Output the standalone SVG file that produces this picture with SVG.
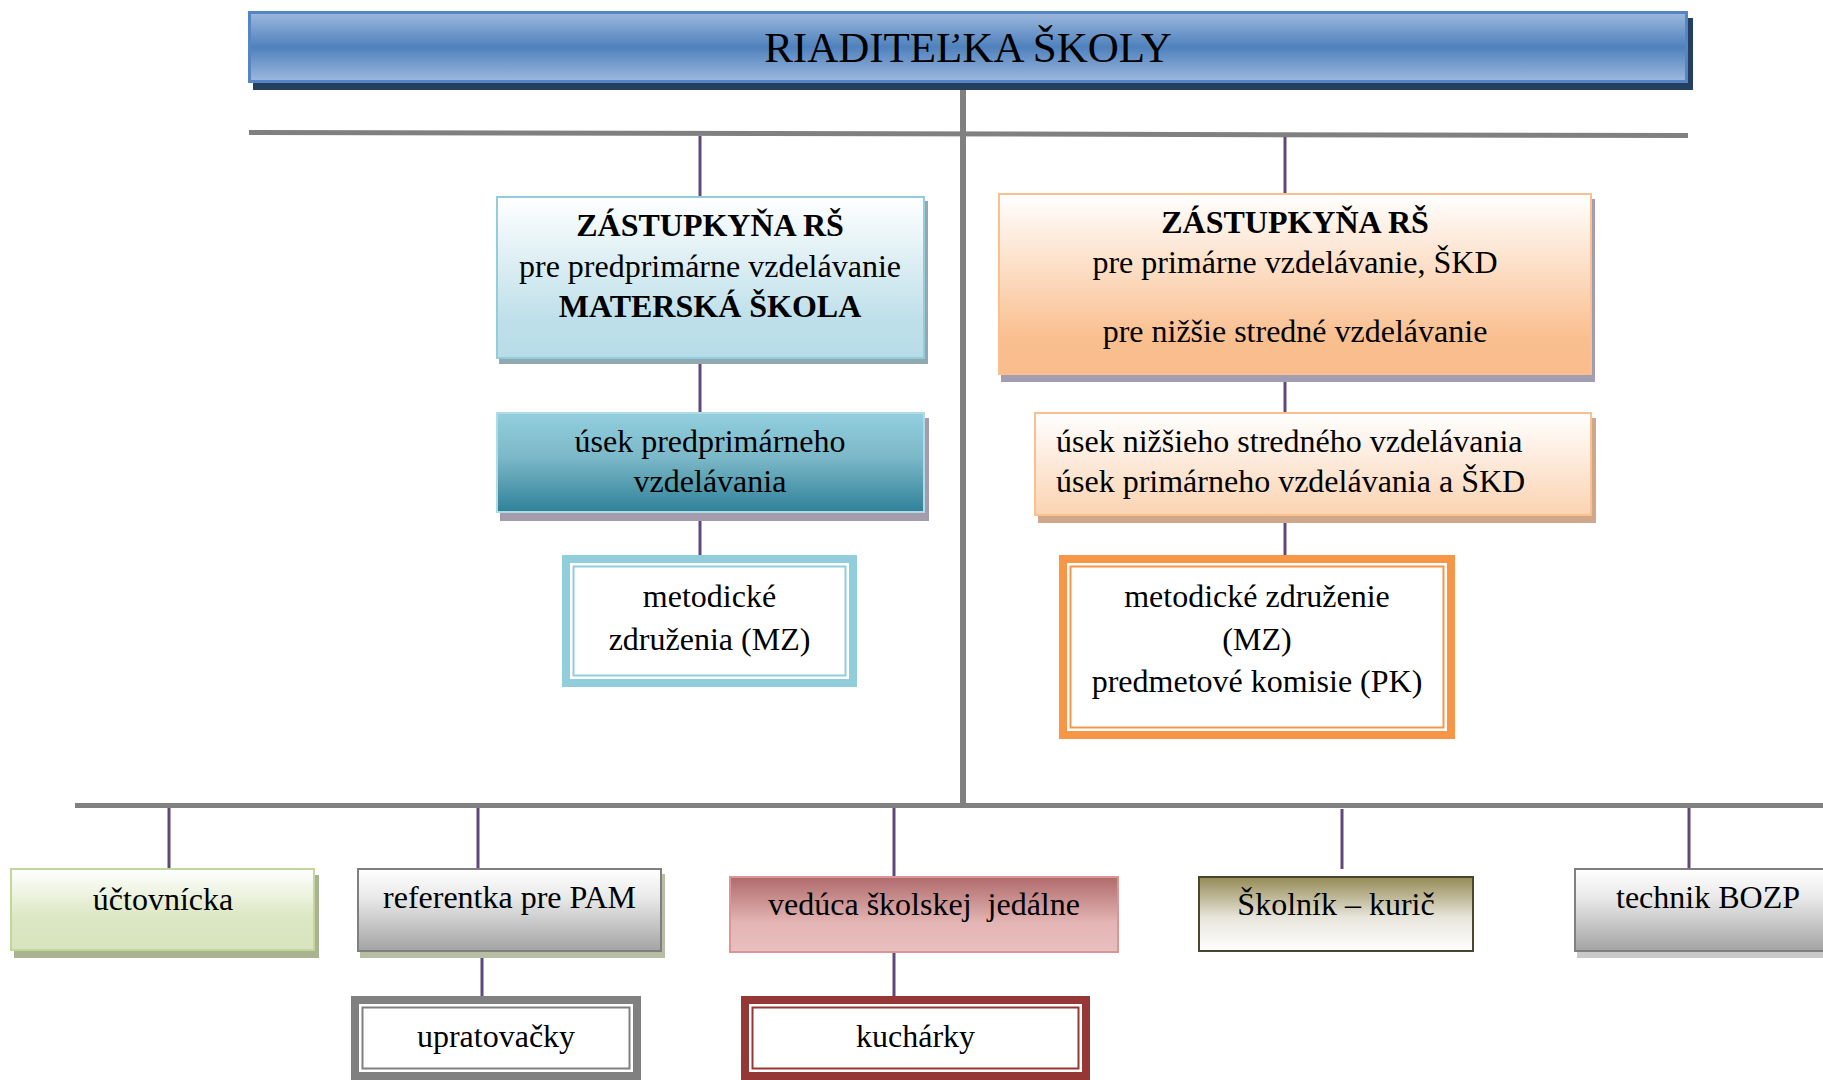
<svg xmlns="http://www.w3.org/2000/svg" width="1823" height="1080" viewBox="0 0 1823 1080">
<defs>
<linearGradient id="gTitle" x1="0" y1="0" x2="0" y2="1"><stop offset="0" stop-color="#9db9dd"/><stop offset="0.5" stop-color="#4f81bd"/><stop offset="1" stop-color="#9db9dd"/></linearGradient>
<linearGradient id="gL1" x1="0" y1="0" x2="0" y2="1"><stop offset="0" stop-color="#ffffff"/><stop offset="0.75" stop-color="#bfe0ea"/><stop offset="1" stop-color="#b7dde8"/></linearGradient>
<linearGradient id="gL2" x1="0" y1="0" x2="0" y2="1"><stop offset="0" stop-color="#93cfde"/><stop offset="0.45" stop-color="#7bb8c8"/><stop offset="1" stop-color="#2f8198"/></linearGradient>
<linearGradient id="gR1" x1="0" y1="0" x2="0" y2="1"><stop offset="0" stop-color="#ffffff"/><stop offset="0.8" stop-color="#fabf8f"/><stop offset="1" stop-color="#f9bd8c"/></linearGradient>
<linearGradient id="gR2" x1="0" y1="0" x2="0" y2="1"><stop offset="0" stop-color="#ffffff"/><stop offset="1" stop-color="#fbd3b2"/></linearGradient>
<linearGradient id="gGreen" x1="0" y1="0" x2="0" y2="1"><stop offset="0" stop-color="#ffffff"/><stop offset="0.6" stop-color="#dbe7c3"/><stop offset="1" stop-color="#d7e4bd"/></linearGradient>
<linearGradient id="gGray" x1="0" y1="0" x2="0" y2="1"><stop offset="0" stop-color="#ffffff"/><stop offset="0.35" stop-color="#e9e9e9"/><stop offset="1" stop-color="#a3a3a3"/></linearGradient>
<linearGradient id="gRose" x1="0" y1="0" x2="0" y2="1"><stop offset="0" stop-color="#b06a6b"/><stop offset="0.6" stop-color="#e3b4b3"/><stop offset="1" stop-color="#e8c0bf"/></linearGradient>
<linearGradient id="gOlive" x1="0" y1="0" x2="0" y2="1"><stop offset="0" stop-color="#948a54"/><stop offset="0.55" stop-color="#e8e6dc"/><stop offset="1" stop-color="#ffffff"/></linearGradient>
<style>
text{font-family:"Liberation Serif","Times New Roman",serif;font-size:32px;fill:#000}
.c{text-anchor:middle}
.b{font-weight:bold}
.gl{stroke:#808080;fill:none}
.pc{stroke:#5f497a;stroke-width:3;fill:none}
</style>
</defs>

<g id="connectors">
<line class="gl" x1="963" y1="83" x2="963" y2="808" stroke-width="6"/>
<line class="gl" x1="249" y1="132.5" x2="1688" y2="135.5" stroke-width="5"/>
<line class="gl" x1="75" y1="805.5" x2="1823" y2="805.5" stroke-width="5"/>
<line class="pc" x1="700" y1="136" x2="700" y2="196"/>
<line class="pc" x1="700" y1="359" x2="700" y2="412"/>
<line class="pc" x1="700" y1="513" x2="700" y2="555"/>
<line class="pc" x1="1285" y1="137" x2="1285" y2="193"/>
<line class="pc" x1="1285" y1="375" x2="1285" y2="412"/>
<line class="pc" x1="1285" y1="516" x2="1285" y2="555"/>
<line class="pc" x1="169" y1="808" x2="169" y2="868"/>
<line class="pc" x1="478" y1="808" x2="478" y2="868"/>
<line class="pc" x1="482" y1="952" x2="482" y2="996"/>
<line class="pc" x1="894" y1="808" x2="894" y2="876"/>
<line class="pc" x1="894" y1="953" x2="894" y2="996"/>
<line class="pc" x1="1342" y1="809" x2="1342" y2="869"/>
<line class="pc" x1="1689" y1="808" x2="1689" y2="868"/>
</g>

<g id="riaditelka">
<rect x="253" y="18" width="1440" height="72" fill="#243f60"/>
<rect x="249.5" y="12.5" width="1437" height="69" fill="url(#gTitle)" stroke="#5585c2" stroke-width="3"/>
<text class="c" x="968" y="62" style="font-size:43px">RIADITEĽKA ŠKOLY</text>
</g>

<g id="zastupkyna-ms">
<rect x="499" y="201" width="429" height="163" fill="#90a9b1"/>
<rect x="497" y="197" width="427" height="161" fill="url(#gL1)" stroke="#92cddc" stroke-width="2"/>
<text class="c b" x="710" y="236">ZÁSTUPKYŇA RŠ</text>
<text class="c" x="710" y="277">pre predprimárne vzdelávanie</text>
<text class="c b" x="710" y="317">MATERSKÁ ŠKOLA</text>
</g>

<g id="usek-predprimarneho">
<rect x="500" y="418" width="429" height="103" fill="#a49bac"/>
<rect x="497" y="413" width="427" height="99" fill="url(#gL2)" stroke="#b0dae6" stroke-width="2"/>
<text class="c" x="710" y="452">úsek predprimárneho</text>
<text class="c" x="710" y="492">vzdelávania</text>
</g>

<g id="mz-ms">
<rect x="566" y="559" width="287" height="124" fill="#ffffff" stroke="#92cddc" stroke-width="8"/>
<rect x="573.5" y="566.5" width="272" height="109" fill="none" stroke="#92cddc" stroke-width="2"/>
<text class="c" x="709.5" y="607">metodické</text>
<text class="c" x="709.5" y="650">združenia (MZ)</text>
</g>

<g id="zastupkyna-zs">
<rect x="1001" y="199" width="594" height="183" fill="#a39db2"/>
<rect x="999" y="194" width="592" height="180" fill="url(#gR1)" stroke="#fac090" stroke-width="2"/>
<text class="c b" x="1295" y="233">ZÁSTUPKYŇA RŠ</text>
<text class="c" x="1295" y="273">pre primárne vzdelávanie, ŠKD</text>
<text class="c" x="1295" y="342">pre nižšie stredné vzdelávanie</text>
</g>

<g id="usek-zs">
<rect x="1038" y="418" width="558" height="105" fill="#cfa88b"/>
<rect x="1035" y="413" width="556" height="102" fill="url(#gR2)" stroke="#fac090" stroke-width="2"/>
<text x="1056" y="452">úsek nižšieho stredného vzdelávania</text>
<text x="1056" y="492">úsek primárneho vzdelávania a ŠKD</text>
</g>

<g id="mz-pk-zs">
<rect x="1063" y="559" width="388" height="176" fill="#ffffff" stroke="#f79646" stroke-width="8"/>
<rect x="1070.5" y="566.5" width="373" height="161" fill="none" stroke="#f79646" stroke-width="2"/>
<text class="c" x="1257" y="607">metodické združenie</text>
<text class="c" x="1257" y="650">(MZ)</text>
<text class="c" x="1257" y="692">predmetové komisie (PK)</text>
</g>

<g id="uctovnicka">
<rect x="14" y="875" width="305" height="83" fill="#a9b291"/>
<rect x="11" y="869" width="303" height="81" fill="url(#gGreen)" stroke="#c3d69b" stroke-width="2"/>
<text class="c" x="163" y="910">účtovnícka</text>
</g>

<g id="referentka">
<rect x="360" y="874" width="305" height="84" fill="#b7bea3"/>
<rect x="358" y="869" width="303" height="82" fill="url(#gGray)" stroke="#7f7f7f" stroke-width="2"/>
<text class="c" x="509.5" y="908">referentka pre PAM</text>
</g>

<g id="upratovacky">
<rect x="355" y="1000" width="282" height="76" fill="#ffffff" stroke="#808080" stroke-width="8"/>
<rect x="362.5" y="1007.5" width="267" height="61" fill="none" stroke="#808080" stroke-width="2"/>
<text class="c" x="496" y="1047">upratovačky</text>
</g>

<g id="veduca-jedalne">
<rect x="730" y="877" width="388" height="75" fill="url(#gRose)" stroke="#d99694" stroke-width="2"/>
<text class="c" x="924" y="915" xml:space="preserve">vedúca školskej  jedálne</text>
</g>

<g id="kucharky">
<rect x="745" y="1000" width="341" height="76" fill="#ffffff" stroke="#953735" stroke-width="8"/>
<rect x="752.5" y="1007.5" width="326" height="61" fill="none" stroke="#953735" stroke-width="2"/>
<text class="c" x="915.5" y="1047">kuchárky</text>
</g>

<g id="skolnik">
<rect x="1199" y="877" width="274" height="74" fill="url(#gOlive)" stroke="#4a4530" stroke-width="2"/>
<text class="c" x="1336" y="915">Školník – kurič</text>
</g>

<g id="technik-bozp">
<rect x="1577" y="875" width="280" height="83" fill="#c9c9c9"/>
<rect x="1575" y="869" width="278" height="82" fill="url(#gGray)" stroke="#7f7f7f" stroke-width="2"/>
<text x="1616" y="908">technik BOZP</text>
</g>
</svg>
